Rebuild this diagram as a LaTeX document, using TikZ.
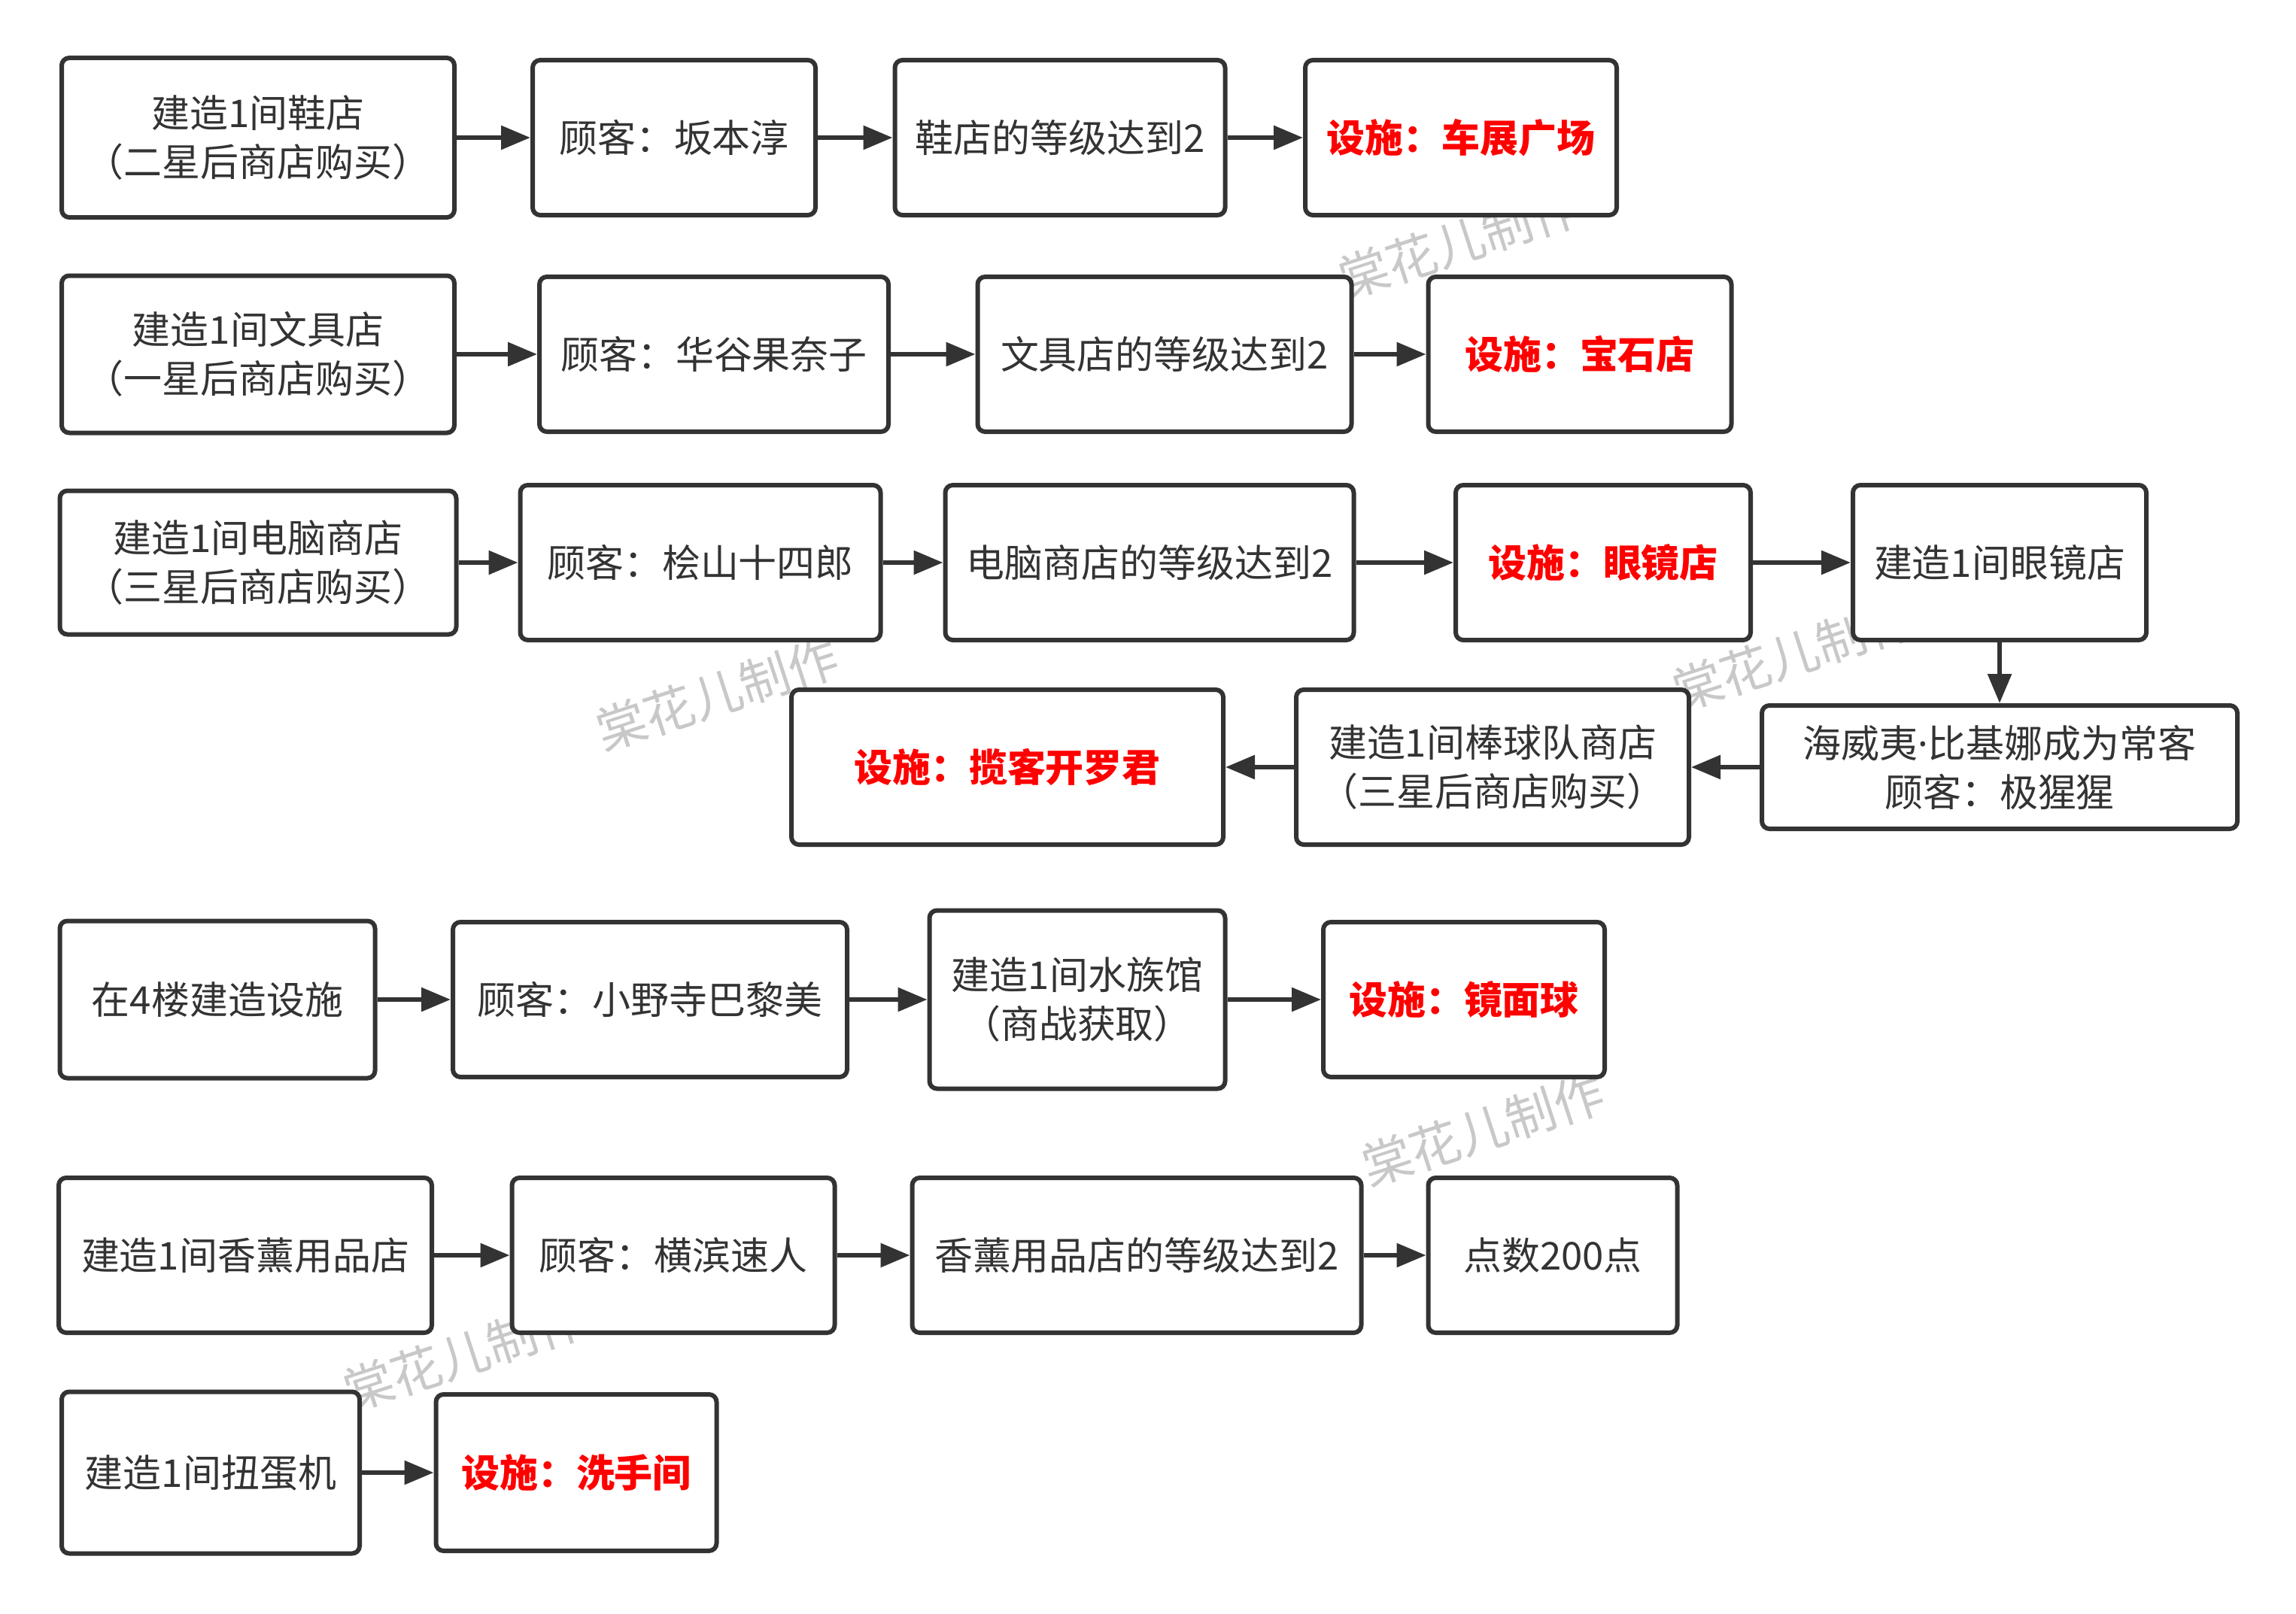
\documentclass[tikz,border=0pt]{standalone}
\usepackage{fontspec}
\setmainfont{Noto Sans CJK SC}
\newfontfamily\latinfont{Noto Sans}
\usepackage{tikz}
\usetikzlibrary{arrows.meta,positioning}

\definecolor{linegray}{HTML}{333333}
\definecolor{stampgray}{HTML}{C8C8C8}
\definecolor{goalred}{HTML}{FF0000}

\begin{document}
\begin{tikzpicture}[
    font=\fontsize{14.5}{18.5}\selectfont,
    box/.style={rectangle, draw=linegray, line width=0.6mm, rounded corners=1mm,
      fill=white, text=linegray, align=center, inner sep=0pt, minimum height=2.06cm},
    goal/.style={box, text=goalred, font=\fontsize{14.5}{18.5}\selectfont\bfseries},
    arrow/.style={-{Triangle[length=3.9mm,width=3.1mm]}, line width=0.6mm, draw=linegray},
    stamp/.style={text=stampgray, rotate=18, inner sep=0pt, font=\fontsize{19}{22}\selectfont}
  ]
  \useasboundingbox (0,0) rectangle (30.52,-21.45);

  % Watermarks - drawn first so the boxes cover them
  \node[stamp] (W1) at (19.40,-3.22) {棠花儿制作};
  \node[stamp] (W2) at (9.53,-9.23) {棠花儿制作};
  \node[stamp] (W3) at (23.84,-8.70) {棠花儿制作};
  \node[stamp] (W4) at (19.71,-15.02) {棠花儿制作};
  \node[stamp] (W5) at (6.17,-18.01) {棠花儿制作};

  % Row 1 - shoe shop
  \node[box, minimum width=5.22cm, minimum height=2.12cm] (A1) at (3.43,-1.83) {建造1间鞋店\\（二星后商店购买）};
  \node[box, minimum width=3.76cm] (A2) at (8.96,-1.83) {顾客：坂本淳};
  \node[box, minimum width=4.39cm] (A3) at (14.09,-1.83) {鞋店的等级达到2};
  \node[goal, minimum width=4.14cm] (A4) at (19.42,-1.83) {设施：车展广场};

  % Row 2 - stationery shop
  \node[box, minimum width=5.22cm, minimum height=2.09cm] (B1) at (3.43,-4.71) {建造1间文具店\\（一星后商店购买）};
  \node[box, minimum width=4.64cm] (B2) at (9.49,-4.71) {顾客：华谷果奈子};
  \node[box, minimum width=4.97cm] (B3) at (15.48,-4.71) {文具店的等级达到2};
  \node[goal, minimum width=4.03cm] (B4) at (21.00,-4.71) {设施：宝石店};

  % Row 3 - computer shop
  \node[box, minimum width=5.27cm, minimum height=1.91cm] (C1) at (3.43,-7.48) {建造1间电脑商店\\（三星后商店购买）};
  \node[box, minimum width=4.79cm] (C2) at (9.31,-7.48) {顾客：桧山十四郎};
  \node[box, minimum width=5.43cm] (C3) at (15.28,-7.48) {电脑商店的等级达到2};
  \node[goal, minimum width=3.92cm] (C4) at (21.31,-7.48) {设施：眼镜店};
  \node[box, minimum width=3.90cm] (C5) at (26.58,-7.48) {建造1间眼镜店};

  % Row 4 - runs back to the left
  \node[box, minimum width=6.32cm, minimum height=1.64cm] (D3) at (26.58,-10.20) {海威夷{\latinfont ·}比基娜成为常客\\顾客：极猩猩};
  \node[box, minimum width=5.22cm] (D2) at (19.84,-10.20) {建造1间棒球队商店\\（三星后商店购买）};
  \node[goal, minimum width=5.74cm] (D1) at (13.39,-10.20) {设施：揽客开罗君};

  % Row 5 - 4th floor
  \node[box, minimum width=4.19cm, minimum height=2.09cm] (E1) at (2.89,-13.29) {在4楼建造设施};
  \node[box, minimum width=5.24cm] (E2) at (8.64,-13.29) {顾客：小野寺巴黎美};
  \node[box, minimum width=3.93cm, minimum height=2.37cm] (E3) at (14.32,-13.29) {建造1间水族馆\\（商战获取）};
  \node[goal, minimum width=3.74cm] (E4) at (19.46,-13.29) {设施：镜面球};

  % Row 6 - aroma shop
  \node[box, minimum width=4.96cm] (F1) at (3.26,-16.69) {建造1间香薰用品店};
  \node[box, minimum width=4.29cm] (F2) at (8.95,-16.69) {顾客：横滨速人};
  \node[box, minimum width=5.97cm] (F3) at (15.11,-16.69) {香薰用品店的等级达到2};
  \node[box, minimum width=3.31cm] (F4) at (20.64,-16.69) {点数200点};

  % Row 7 - capsule machine
  \node[box, minimum width=3.96cm, minimum height=2.15cm] (G1) at (2.80,-19.58) {建造1间扭蛋机};
  \node[goal, minimum width=3.73cm, minimum height=2.08cm] (G2) at (7.66,-19.58) {设施：洗手间};

  % Edges
  \draw[arrow] (A1) -- (A2);
  \draw[arrow] (A2) -- (A3);
  \draw[arrow] (A3) -- (A4);

  \draw[arrow] (B1) -- (B2);
  \draw[arrow] (B2) -- (B3);
  \draw[arrow] (B3) -- (B4);

  \draw[arrow] (C1) -- (C2);
  \draw[arrow] (C2) -- (C3);
  \draw[arrow] (C3) -- (C4);
  \draw[arrow] (C4) -- (C5);
  \draw[arrow] (C5) -- (D3);
  \draw[arrow] (D3) -- (D2);
  \draw[arrow] (D2) -- (D1);

  \draw[arrow] (E1) -- (E2);
  \draw[arrow] (E2) -- (E3);
  \draw[arrow] (E3) -- (E4);

  \draw[arrow] (F1) -- (F2);
  \draw[arrow] (F2) -- (F3);
  \draw[arrow] (F3) -- (F4);

  \draw[arrow] (G1) -- (G2);

\end{tikzpicture}
\end{document}
